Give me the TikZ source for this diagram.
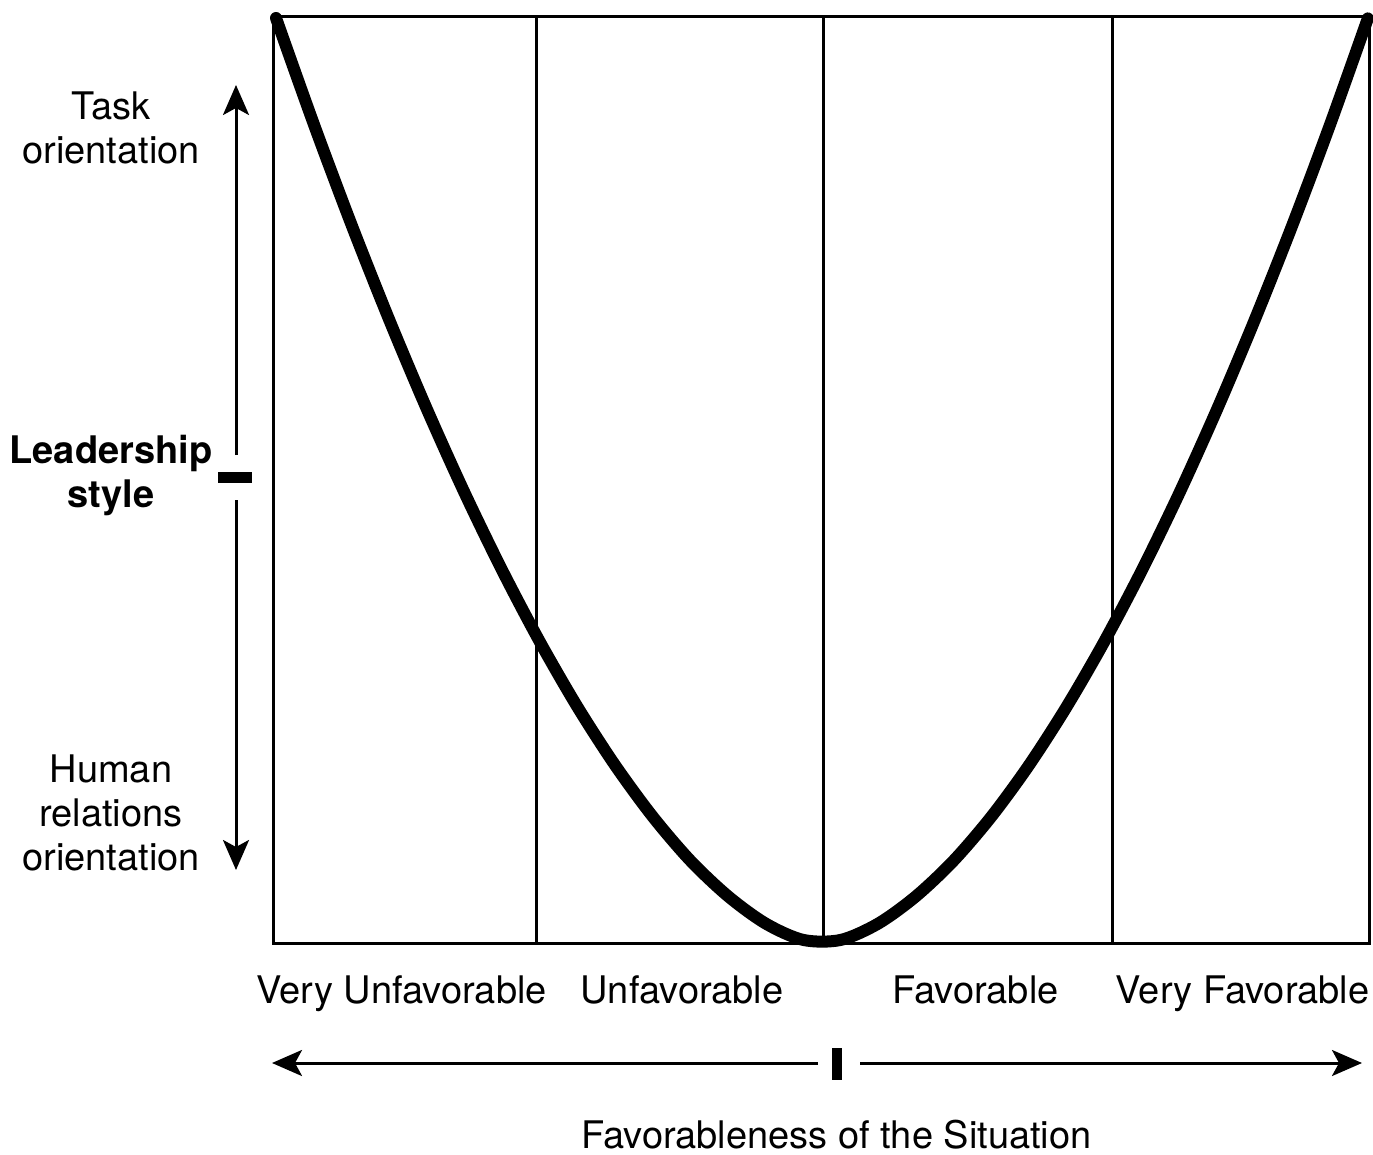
\documentclass[tikz,border=0pt]{standalone}
\usepackage{fontspec}
\setmainfont{TeX Gyre Heros}
\usetikzlibrary{arrows.meta}
\begin{document}
\begin{tikzpicture}[x=1pt,y=-1pt,
  frame/.style={line width=3pt},
  curve/.style={line width=12pt, line cap=round, line join=round},
  axis/.style={line width=3pt, -{Stealth[length=30pt, width=26pt, inset=7pt]}},
  mark bar/.style={line width=11pt},
  lbl/.style={font=\fontsize{38}{44}\selectfont, anchor=base, inner sep=0pt},
  stack/.style={lbl, align=center},
  boldstack/.style={stack, font=\fontsize{38}{44}\selectfont\bfseries}]
\useasboundingbox (0,0) rectangle (1373,1155);

% chart frame and zone dividers
\coordinate (tl) at (273,17);
\coordinate (br) at (1369,943);
\draw[frame] (tl) rectangle (br);
\foreach \xx/\nm in {536/d1, 823/d2, 1112/d3} {
  \coordinate (\nm top) at (\xx,17);
  \coordinate (\nm bot) at (\xx,943);
  \draw[frame] (\nm top) -- (\nm bot);
}

% leadership style curve (power law, smoothed through the bottom)
\draw[curve] plot[smooth, domain=-1:1, samples=30]
  ({822+546*\x}, {943-925*abs(\x)^1.7});

% vertical leadership axis
\coordinate (vtop) at (236,85);
\coordinate (vtopend) at (236,455);
\coordinate (vbotstart) at (236,500);
\coordinate (vbot) at (236,870);
\coordinate (vdashL) at (218,477.5);
\coordinate (vdashR) at (252,477.5);
\draw[axis] (vtopend) -- (vtop);
\draw[axis] (vbotstart) -- (vbot);
\draw[mark bar] (vdashL) -- (vdashR);

% horizontal favorableness axis
\coordinate (hleft) at (272,1063);
\coordinate (hlend) at (818,1063);
\coordinate (hrstart) at (860,1063);
\coordinate (hright) at (1362,1063);
\coordinate (htickT) at (837,1048);
\coordinate (htickB) at (837,1080);
\draw[axis] (hlend) -- (hleft);
\draw[axis] (hrstart) -- (hright);
\draw[line width=10pt] (htickT) -- (htickB);

% axis labels (anchored at the last line's baseline)
\node[stack] (task) at (111,164) {Task\\orientation};
\node[boldstack] (style) at (111,507) {Leadership\\style};
\node[stack] (human) at (111,870) {Human\\relations\\orientation};

\node[lbl] (vu) at (401.5,1003) {Very Unfavorable};
\node[lbl] (u) at (682,1003) {Unfavorable};
\node[lbl] (f) at (975.5,1003) {Favorable};
\node[lbl] (vf) at (1242.5,1003) {Very Favorable};
\node[lbl] (title) at (836.5,1148) {Favorableness of the Situation};
\end{tikzpicture}
\end{document}
